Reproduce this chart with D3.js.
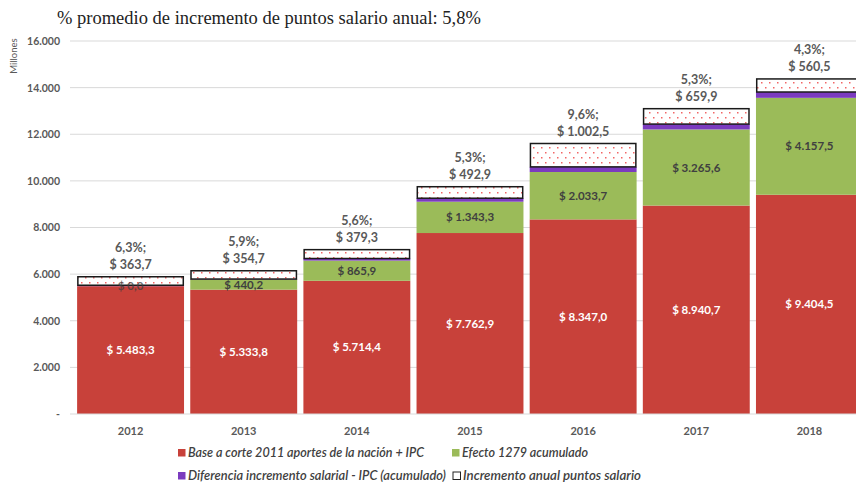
<!DOCTYPE html>
<html>
<head>
<meta charset="utf-8">
<script src="https://cdn.jsdelivr.net/npm/d3@7"></script>
<style>
  body { margin: 0; background: #fff; }
  svg { display: block; font-family: Lato, "Open Sans", sans-serif; }
</style>
</head>
<body>
<svg id="chart" width="856" height="487"></svg>
<script>
// values (millones)
const years = ["2012", "2013", "2014", "2015", "2016", "2017", "2018"];
const base = [5483.3, 5333.8, 5714.4, 7762.9, 8347.0, 8940.7, 9404.5];
const efecto = [0.0, 440.2, 865.9, 1343.3, 2033.7, 3265.6, 4157.5];
const diferencia = [40, 15, 90, 150, 220, 230, 250];
const incremento = [363.7, 354.7, 379.3, 492.9, 1002.5, 659.9, 560.5];
const pctIncremento = ["6,3%", "5,9%", "5,6%", "5,3%", "9,6%", "5,3%", "4,3%"];
const yTicks = [0, 2000, 4000, 6000, 8000, 10000, 12000, 14000, 16000];
const seriesNames = ["Base a corte 2011 aportes de la nación + IPC", "Efecto 1279 acumulado",
                     "Diferencia incremento salarial - IPC (acumulado)", "Incremento anual puntos salario"];

const colors = { base: "#C8413A", efecto: "#9BBB59", dif: "#7B3BBF" };

const svg = d3.select("#chart");

let margin = {left: 70, top: 41, bottom: 414};

const x = d3.scaleBand()
  .domain(years)
  .range([74, 866])
  .paddingInner(0.055)
  .paddingOuter(0.0275);

const y = d3.scaleLinear()
  .domain([0, 16000])
  .range([margin.bottom, margin.top]);

const fmt = d3.formatLocale({decimal: ",", thousands: ".", grouping: [3], currency: ["$", ""]});
const money = v => "$ " + fmt.format(",.1f")(v);

// dotted pattern for the last series
const defs = svg.append("defs");
const pat = defs.append("pattern")
  .attr("id", "dots")
  .attr("patternUnits", "userSpaceOnUse")
  .attr("width", 8).attr("height", 10);
pat.append("rect").attr("width", 8).attr("height", 10).attr("fill", "#fff").attr("stroke", "none");
pat.append("rect").attr("x", 1).attr("y", 2).attr("width", 1.5).attr("height", 1.5)
  .attr("fill", "#F26666").attr("stroke", "none");
pat.append("rect").attr("x", 5).attr("y", 7).attr("width", 1.5).attr("height", 1.5)
  .attr("fill", "#F26666").attr("stroke", "none");

// title
svg.append("text")
  .attr("x", 57).attr("y", 24)
  .attr("font-family", "'Liberation Serif', 'DejaVu Serif', serif")
  .attr("font-size", 18.5)
  .attr("fill", "#222")
  .text("% promedio de incremento de puntos salario anual: 5,8%");

// grid
svg.append("g")
  .selectAll("line")
  .data(yTicks.slice(1))
  .join("line")
  .attr("x1", margin.left).attr("x2", 856)
  .attr("y1", d => y(d)).attr("y2", d => y(d))
  .attr("stroke", "#D9D9D9").attr("stroke-width", 1);

// y axis
const yAxis = d3.axisLeft(y)
  .tickValues(yTicks)
  .tickSize(0)
  .tickPadding(8)
  .tickFormat(d => d === 0 ? "-" : fmt.format(",")(d));

svg.append("g")
  .attr("transform", "translate(" + (margin.left - 2) + ",0)")
  .call(yAxis)
  .call(g => g.select(".domain").remove())
  .call(g => g.selectAll("text")
    .attr("font-family", "Lato, sans-serif")
    .attr("font-size", 10.5)
    .attr("font-weight", "bold")
    .attr("fill", "#595959"));

svg.append("text")
  .attr("transform", "translate(17,56) rotate(-90)")
  .attr("text-anchor", "middle")
  .attr("font-size", 9.5)
  .attr("fill", "#595959")
  .text("Millones");

// stacked bars
const rows = years.map((yr, i) => ({
  year: yr,
  b0: 0, b1: base[i],
  e0: base[i], e1: base[i] + efecto[i],
  d0: base[i] + efecto[i], d1: base[i] + efecto[i] + diferencia[i],
  i0: base[i] + efecto[i] + diferencia[i], i1: base[i] + efecto[i] + diferencia[i] + incremento[i],
  i: i
}));

const bars = svg.append("g");

bars.selectAll(".base")
  .data(rows).join("rect")
  .attr("class", "base")
  .attr("x", d => x(d.year)).attr("width", x.bandwidth())
  .attr("y", d => y(d.b1)).attr("height", d => y(d.b0) - y(d.b1))
  .attr("fill", colors.base);

bars.selectAll(".efecto")
  .data(rows).join("rect")
  .attr("class", "efecto")
  .attr("x", d => x(d.year)).attr("width", x.bandwidth())
  .attr("y", d => y(d.e1)).attr("height", d => y(d.e0) - y(d.e1))
  .attr("fill", colors.efecto);

bars.selectAll(".dif")
  .data(rows).join("rect")
  .attr("class", "dif")
  .attr("x", d => x(d.year)).attr("width", x.bandwidth())
  .attr("y", d => y(d.d1)).attr("height", d => y(d.d0) - y(d.d1))
  .attr("fill", colors.dif);

bars.selectAll(".inc")
  .data(rows).join("rect")
  .attr("class", "inc")
  .attr("x", d => x(d.year) + 0.75).attr("width", x.bandwidth() - 1.5)
  .attr("y", d => y(d.i1)).attr("height", d => y(d.i0) - y(d.i1))
  .attr("fill", "url(#dots)")
  .attr("stroke", "#1a1a1a").attr("stroke-width", 1.5);

// baseline
svg.append("line")
  .attr("x1", margin.left).attr("x2", 856)
  .attr("y1", y(0)).attr("y2", y(0))
  .attr("stroke", "#D9D9D9");

// labels
const labels = svg.append("g")
  .attr("text-anchor", "middle")
  .attr("font-weight", "bold")
  .attr("font-size", 11.5);

labels.selectAll(".lb")
  .data(rows).join("text")
  .attr("x", d => x(d.year) + x.bandwidth() / 2)
  .attr("y", d => y((d.b0 + d.b1) / 2) + 4)
  .attr("fill", "#fff")
  .text(d => money(d.b1));

labels.selectAll(".le")
  .data(rows).join("text")
  .attr("x", d => x(d.year) + x.bandwidth() / 2)
  .attr("y", d => y((d.e0 + d.e1) / 2) + 4)
  .attr("fill", "#404040")
  .attr("opacity", d => d.e1 - d.e0 > 0 ? 1 : 0.75)
  .text(d => money(d.e1 - d.e0));

labels.selectAll(".lp")
  .data(rows).join("text")
  .attr("x", d => x(d.year) + x.bandwidth() / 2)
  .attr("y", d => y(d.i1) - 25)
  .attr("fill", "#595959")
  .attr("font-size", 12.5)
  .text(d => pctIncremento[d.i] + ";");

labels.selectAll(".lv")
  .data(rows).join("text")
  .attr("x", d => x(d.year) + x.bandwidth() / 2)
  .attr("y", d => y(d.i1) - 8)
  .attr("fill", "#595959")
  .attr("font-size", 12.5)
  .text(d => money(d.i1 - d.i0));

// x axis labels
svg.append("g")
  .attr("transform", "translate(0," + y(0) + ")")
  .call(d3.axisBottom(x).tickSize(0).tickPadding(13))
  .call(g => g.select(".domain").remove())
  .call(g => g.selectAll("text")
    .attr("font-family", "Lato, sans-serif")
    .attr("font-size", 11)
    .attr("font-weight", "bold")
    .attr("fill", "#595959"));

// legend
const legendItems = [
  {name: seriesNames[0], fill: colors.base, x: 178, y: 457},
  {name: seriesNames[1], fill: colors.efecto, x: 452, y: 457},
  {name: seriesNames[2], fill: colors.dif, x: 178, y: 480},
  {name: seriesNames[3], fill: "#fff", x: 453, y: 480, stroke: true}
];

const legend = svg.append("g");
const li = legend.selectAll("g").data(legendItems).join("g")
  .attr("transform", d => "translate(" + d.x + "," + d.y + ")");

li.append("rect")
  .attr("x", 0).attr("y", -8).attr("width", 7.5).attr("height", 7.5)
  .attr("fill", d => d.fill)
  .attr("stroke", d => d.stroke ? "#222" : "none")
  .attr("stroke-width", 1);

li.append("text")
  .attr("x", 10).attr("y", 0)
  .attr("font-size", 13)
  .attr("font-style", "italic")
  .attr("font-weight", 600)
  .attr("fill", "#404040")
  .attr("textLength", (d, i) => [236, 126, 258, 178][i])
  .attr("lengthAdjust", "spacingAndGlyphs")
  .text(d => d.name);
</script>
</body>
</html>
